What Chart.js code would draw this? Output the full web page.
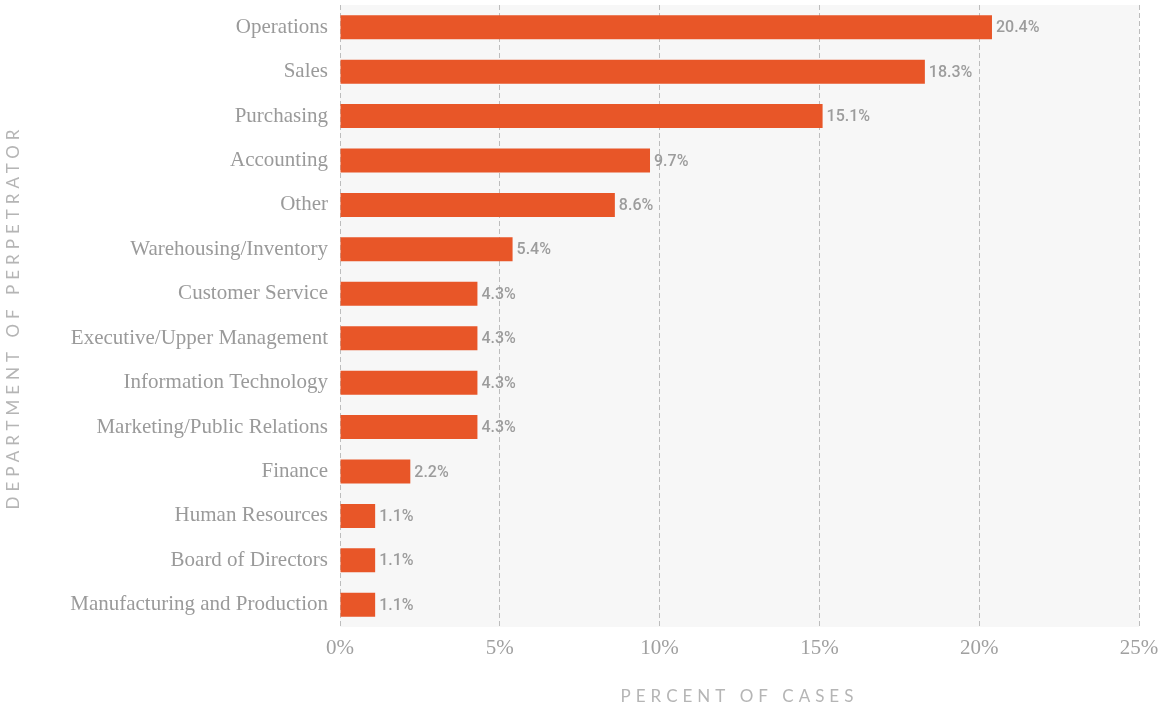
<!DOCTYPE html>
<html>
<head>
<meta charset="utf-8">
<script src="https://cdn.jsdelivr.net/npm/chart.js@4/dist/chart.umd.min.js"></script>
<style>
  html, body { margin: 0; padding: 0; background: #ffffff; }
  #wrap { width: 1159px; height: 709px; position: relative; }
</style>
</head>
<body>
<div id="wrap"><canvas id="chart" width="1159" height="709"></canvas></div>
<script>
// Department of perpetrator, share of cases (%)
const departments = [
  'Operations', 'Sales', 'Purchasing', 'Accounting', 'Other',
  'Warehousing/Inventory', 'Customer Service', 'Executive/Upper Management',
  'Information Technology', 'Marketing/Public Relations', 'Finance',
  'Human Resources', 'Board of Directors', 'Manufacturing and Production'
];
const percentOfCases = [20.4, 18.3, 15.1, 9.7, 8.6, 5.4, 4.3, 4.3, 4.3, 4.3, 2.2, 1.1, 1.1, 1.1];
const xTickValues = [0, 5, 10, 15, 20, 25];
const xAxisTitle = 'PERCENT OF CASES';
const yAxisTitle = 'DEPARTMENT OF PERPETRATOR';

const BAR_COLOR = '#E85628';
const SERIF = '"Liberation Serif", "DejaVu Serif", serif';

// Light grey panel behind the plot area
const panelPlugin = {
  id: 'panel',
  beforeDraw(chart) {
    const { ctx, chartArea: a } = chart;
    ctx.save();
    ctx.fillStyle = '#f7f7f7';
    ctx.fillRect(a.left, a.top, a.right - a.left, a.bottom - a.top);
    ctx.restore();
  }
};

// Percentage labels at the end of each bar
const valueLabelPlugin = {
  id: 'valueLabels',
  afterDatasetsDraw(chart) {
    const { ctx } = chart;
    const meta = chart.getDatasetMeta(0);
    ctx.save();
    ctx.font = '500 16px Roboto, "Noto Sans", sans-serif';
    ctx.fillStyle = '#9c9c9c';
    ctx.textAlign = 'left';
    ctx.textBaseline = 'middle';
    meta.data.forEach((bar, i) => {
      ctx.fillText(percentOfCases[i].toFixed(1) + '%', bar.x + 4, bar.y + 1);
    });
    ctx.restore();
  }
};

// Letter-spaced axis titles
const axisTitlePlugin = {
  id: 'axisTitles',
  afterDraw(chart) {
    const { ctx, chartArea: a } = chart;
    ctx.save();
    ctx.font = '400 17px Lato, "Open Sans", sans-serif';
    ctx.fillStyle = '#b5b5b5';
    ctx.letterSpacing = '5px';
    ctx.textAlign = 'center';
    ctx.textBaseline = 'middle';
    ctx.fillText(xAxisTitle, (a.left + a.right) / 2 + 0, 697);
    ctx.translate(14, 319);
    ctx.rotate(-Math.PI / 2);
    ctx.fillText(yAxisTitle, 2, 0);
    ctx.restore();
  }
};

new Chart(document.getElementById('chart'), {
  type: 'bar',
  data: {
    labels: departments,
    datasets: [{
      data: percentOfCases,
      backgroundColor: BAR_COLOR,
      borderWidth: 0,
      categoryPercentage: 1,
      barPercentage: 0.54
    }]
  },
  options: {
    indexAxis: 'y',
    responsive: false,
    animation: false,
    layout: { padding: { top: 5, right: 20, left: 0, bottom: 0 } },
    plugins: {
      legend: { display: false },
      tooltip: { enabled: false }
    },
    scales: {
      x: {
        min: 0,
        max: 25,
        afterBuildTicks(scale) {
          scale.ticks = xTickValues.map(v => ({ value: v }));
        },
        afterFit(scale) {
          scale.height = 82;
          scale.paddingLeft = 0;
          scale.paddingRight = 0;
        },
        border: { display: false, dash: [5, 3] },
        grid: {
          color: '#bdbdbd',
          lineWidth: 1,
          drawTicks: false
        },
        ticks: {
          padding: 9,
          color: '#a0a0a0',
          font: { family: SERIF, size: 21 },
          callback: v => v + '%'
        }
      },
      y: {
        afterFit(scale) {
          scale.width = 340;
          scale.paddingTop = 0;
          scale.paddingBottom = 0;
        },
        border: { display: false },
        grid: { display: false, drawTicks: false },
        ticks: {
          padding: 12,
          color: '#9a9a9a',
          font: { family: SERIF, size: 21 }
        }
      }
    }
  },
  plugins: [panelPlugin, valueLabelPlugin, axisTitlePlugin]
});
</script>
</body>
</html>
